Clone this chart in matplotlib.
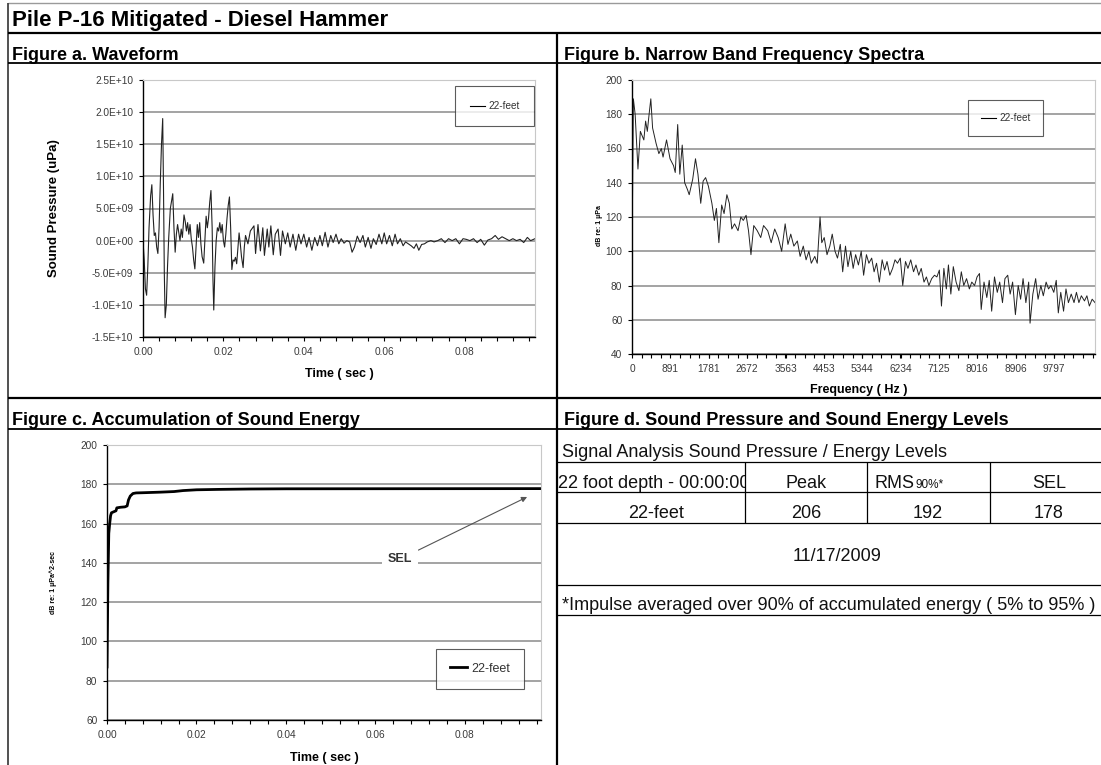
import matplotlib
matplotlib.use("Agg")
import matplotlib.pyplot as plt
from matplotlib.ticker import FixedLocator, MultipleLocator, FuncFormatter
from matplotlib.lines import Line2D

plt.rcParams['font.family'] = ['Liberation Sans', 'DejaVu Sans']

# ---------------- data ----------------
main_title = "Pile P-16 Mitigated - Diesel Hammer"
panel_titles = ["Figure a. Waveform", "Figure b. Narrow Band Frequency Spectra",
                "Figure c. Accumulation of Sound Energy",
                "Figure d. Sound Pressure and Sound Energy Levels"]
series_name = "22-feet"

# Figure a: waveform (time in ms, pressure in 1E9 uPa)
wave_t_ms = [0.0, 0.3, 0.6, 0.9, 1.2, 1.5, 1.9, 2.2, 2.5, 2.8, 3.1, 3.4, 3.7, 4.0, 4.3, 4.6, 4.9,
             5.1, 5.3, 5.5, 5.8, 6.1, 6.4, 6.8, 7.4, 7.7, 8.0, 8.3, 8.6, 8.9, 9.2, 9.5, 9.8,
             10.2, 10.5, 10.8, 11.1, 11.4, 11.7, 12.0, 12.3, 12.6, 12.9, 13.2, 13.5, 13.8, 14.1,
             14.4, 14.7, 15.1, 15.4, 15.7, 16.0, 16.3, 16.6, 16.9, 17.2, 17.4, 17.6, 17.9, 18.2,
             18.5, 18.8, 19.1, 19.4, 19.7, 20.0, 20.3, 20.6, 20.9, 21.2, 21.5, 21.8, 22.1, 22.4,
             22.7, 23.0, 23.3, 23.6, 23.9, 24.2, 24.5, 24.9, 25.2, 25.5, 26.1,
             26.7, 27.6, 28.0, 28.6, 29.2, 29.8, 30.2, 30.9, 31.3, 31.8, 32.4, 32.9, 33.6, 34.2,
             34.7, 35.4, 36.0, 36.6, 37.3, 38.0, 38.7, 39.3, 40.0, 40.7, 41.3, 42.0, 42.7, 43.4,
             44.0, 44.6, 45.3, 46.0, 46.7, 47.3, 48.0, 48.7, 49.3, 50.0, 50.7, 51.4, 52.0, 52.6,
             53.3, 54.0, 54.7, 55.3, 56.0, 56.7, 57.3, 58.0, 58.7, 59.4, 60.0, 60.6, 61.3, 62.0,
             62.7, 63.3, 64.0, 64.7, 65.3, 66.0, 66.7, 67.4, 68.0, 68.6, 69.3, 70.0, 70.7, 71.6,
             72.4, 73.3, 74.2, 75.1, 76.0, 76.9, 77.8, 78.7, 79.6, 80.4, 81.3, 82.2, 83.1, 84.0,
             84.9, 85.8, 86.7, 87.6, 88.4, 89.3, 90.2, 91.1, 92.0, 92.9, 93.8, 94.7, 95.6, 96.4,
             97.5]
wave_p_e9 = [0.0, -3.0, -7.5, -8.5, -4.0, 2.0, 7.0, 8.7, 4.0, 0.8, 1.2, -1.0, -2.0, 2.0, 9.0, 15.0, 19.0,
             8.0, -5.0, -12.0, -10.0, -4.0, 0.5, 5.0, 7.3, 2.0, -1.8, 1.0, 2.5, 1.2, 0.0, 1.8, 0.5,
             4.0, 3.0, 1.5, 2.8, 1.0, 2.5, 0.3, -1.0, -3.0, -4.4, -1.0, 2.5, 0.5, 2.8,
             -0.5, -2.5, -3.5, 0.0, 3.8, 2.0, 3.5, 6.0, 7.8, 2.0, -6.0, -10.8, -4.0, 0.0,
             2.0, 1.5, 2.8, 1.2, 2.5, 0.0, -1.0, 1.0, 3.5, 5.5, 6.8, 2.0, -4.5, -3.0,
             -3.2, -2.6, -3.6, -1.2, 1.2, -0.5, -2.5, -4.2, -1.0, 0.8, -0.5,
             1.5, 2.3, -2.0, 2.5, -1.6, 2.0, -2.3, 1.8, -1.0, 2.3, -2.2, 1.0, 1.8, -2.3,
             1.5, -0.5, 1.2, -1.0, 1.0, -1.5, 1.0, -0.5, 1.0, -1.0, 0.5, -1.5, 0.5, -0.8,
             0.8, -0.8, 1.3, -1.0, 0.8, -0.3, 1.0, -0.5, 0.3, -0.4, 0.0, -0.2, -1.8, -1.0,
             0.7, -0.3, 0.8, -1.0, 0.5, -1.2, 0.3, -0.6, 1.0, -0.5, 1.2, -0.5, 0.8, -0.8,
             1.0, -0.5, 0.3, -0.8, -0.2, -0.5, -0.8, -1.2, -0.5, -1.5, -0.6, -0.5, -0.2, 0.0,
             -0.2, 0.0, 0.3, -0.3, 0.3, 0.0, 0.3, -0.5, 0.3, 0.2, 0.0, 0.3, -0.3, 0.2,
             -0.7, 0.1, 0.3, 0.8, 0.2, 0.6, 0.3, 0.0, 0.3, 0.0, 0.2, -0.3, 0.5, 0.0,
             0.3]

# Figure b: narrow band spectrum (Hz, dB re 1 uPa)
spec_f = [0, 32, 73, 138, 194, 275, 316, 356, 397, 437, 478, 559, 624, 680, 721, 802, 883, 964,
          1004, 1061, 1110, 1166, 1223, 1288, 1328, 1409, 1474, 1531, 1596, 1652, 1709, 1774,
          1855, 1912, 1960, 2017, 2082, 2138, 2203, 2260, 2317, 2381, 2462, 2527, 2584, 2649,
          2705, 2762, 2827, 2908, 2989, 3054, 3151, 3232, 3313, 3394, 3475, 3556, 3621, 3686,
          3758, 3839, 3904, 3977, 4042, 4107, 4163, 4244, 4301, 4366, 4406, 4463, 4528, 4593,
          4649, 4714, 4771, 4836, 4892, 4957, 5014, 5079, 5135, 5192, 5257, 5322, 5378, 5443,
          5500, 5565, 5621, 5678, 5743, 5808, 5864, 5921, 5986, 6051, 6107, 6164, 6229, 6286,
          6350, 6407, 6472, 6537, 6593, 6658, 6715, 6780, 6836, 6893, 6958, 7023, 7079, 7136,
          7185, 7241, 7298, 7347, 7403, 7460, 7525, 7590, 7646, 7703, 7768, 7833, 7889, 7954,
          8011, 8068, 8108, 8173, 8238, 8294, 8351, 8416, 8481, 8537, 8602, 8659, 8724, 8780,
          8837, 8902, 8967, 9023, 9080, 9145, 9210, 9242, 9307, 9372, 9428, 9493, 9550, 9615,
          9671, 9728, 9793, 9850, 9898, 9955, 10020, 10076, 10133, 10198, 10263, 10319, 10376,
          10433, 10506, 10562, 10619, 10684, 10750]
spec_db = [95, 189, 180, 148, 170, 165, 176, 170, 180, 189, 172, 163, 157, 160, 155, 165, 154, 150,
           146, 174, 145, 162, 140, 136, 133, 142, 154, 145, 128, 141, 143, 138,
           128, 118, 125, 105, 127, 122, 133, 128, 113, 116, 112, 120, 118, 121,
           112, 98, 115, 112, 108, 115, 112, 105, 113, 108, 100, 116, 104, 110,
           103, 106, 97, 103, 95, 100, 93, 97, 93, 120, 105, 108, 98, 103,
           110, 100, 96, 104, 88, 103, 91, 100, 90, 98, 92, 100, 86, 98,
           93, 96, 88, 93, 82, 95, 89, 94, 86, 90, 95, 93, 96, 80,
           94, 90, 95, 88, 92, 86, 90, 82, 85, 80, 84, 86, 85, 89,
           68, 90, 78, 92, 75, 91, 82, 77, 88, 80, 84, 78, 82, 80,
           85, 87, 66, 82, 73, 83, 65, 85, 76, 82, 70, 84, 86, 75,
           82, 63, 80, 72, 84, 70, 82, 58, 75, 84, 72, 80, 74, 82,
           78, 80, 76, 83, 64, 76, 65, 78, 70, 75, 70, 76, 70,
           74, 71, 74, 68, 72, 70]
spec_ticks = [0, 891, 1781, 2672, 3563, 4453, 5344, 6234, 7125, 8016, 8906, 9797]

# Figure c: accumulated sound energy (s, dB re 1 uPa^2-sec)
sel_t = [0.0, 0.0002, 0.0004, 0.0006, 0.0008, 0.0010, 0.0015, 0.0020, 0.0022, 0.0030, 0.0040,
         0.0045, 0.0048, 0.0052, 0.0058, 0.0065, 0.0080, 0.0120, 0.0150, 0.0170, 0.0200,
         0.0250, 0.0320, 0.0400, 0.0970]
sel_db = [87, 130, 155, 160, 164, 165.5, 166, 166.5, 168, 168.3, 168.5,
          169, 172, 174, 175.3, 175.6, 175.7, 176.0, 176.3, 176.8, 177.2,
          177.4, 177.6, 177.7, 177.8]

# Figure d: table
table_caption = "Signal Analysis Sound Pressure / Energy Levels"
table_header = ["22 foot depth - 00:00:00", "Peak", "RMS", "SEL"]
table_row = ["22-feet", 206, 192, 178]
table_date = "11/17/2009"
table_note = "*Impulse averaged over 90% of accumulated energy ( 5% to 95% )"

# ---------------- layout ----------------
W, H = 1101, 765
fig = plt.figure(figsize=(W / 100, H / 100), dpi=100)
bg = fig.add_axes([0, 0, 1, 1], zorder=0)
bg.set_xlim(0, W)
bg.set_ylim(H, 0)
bg.axis('off')


def px_axes(x0, y0, x1, y1):
    return fig.add_axes([x0 / W, 1 - y1 / H, (x1 - x0) / W, (y1 - y0) / H], zorder=2)


def hline(y, x0, x1, lw=1.0, color='black'):
    bg.plot([x0, x1], [y, y], color=color, lw=lw, solid_capstyle='butt')


def vline(x, y0, y1, lw=1.0, color='black'):
    bg.plot([x, x], [y0, y1], color=color, lw=lw, solid_capstyle='butt')


# frame lines
hline(3, 8, W, lw=1.0, color='#9a9a9a')
vline(8, 3, H, lw=1.2, color='#333333')
hline(33, 8, W, lw=1.6)
hline(63, 8, W, lw=1.3)
hline(398, 8, W, lw=1.6)
hline(429, 8, W, lw=1.3)
vline(557, 33, H, lw=1.6)

# titles
bg.text(12, 26, main_title, fontsize=16, fontweight='bold', ha='left', va='baseline')
bg.text(12, 60, panel_titles[0], fontsize=13, fontweight='bold', ha='left', va='baseline')
bg.text(564, 60, panel_titles[1], fontsize=13, fontweight='bold', ha='left', va='baseline')
bg.text(12, 425, panel_titles[2], fontsize=13, fontweight='bold', ha='left', va='baseline')
bg.text(564, 425, panel_titles[3], fontsize=13, fontweight='bold', ha='left', va='baseline')

GRID = '#8a8a8a'
TICKC = '#3a3a3a'


def style_axes(ax):
    ax.set_facecolor('white')
    ax.spines['top'].set_color('#c8c8c8')
    ax.spines['right'].set_color('#c8c8c8')
    ax.spines['top'].set_linewidth(0.8)
    ax.spines['right'].set_linewidth(0.8)
    ax.spines['left'].set_linewidth(1.0)
    ax.spines['bottom'].set_linewidth(1.0)
    ax.grid(axis='y', color=GRID, lw=1.1)
    ax.set_axisbelow(True)
    ax.tick_params(axis='both', which='major', direction='out', length=3, width=0.8,
                   labelsize=7.3, labelcolor=TICKC, pad=4)
    ax.tick_params(axis='x', which='minor', direction='out', length=3, width=0.8)


def legend(ax, lw, fs, anchor, handlelength, borderpad):
    h = [Line2D([0], [0], color='black', lw=lw)]
    lg = ax.legend(h, [series_name], loc='upper left', bbox_to_anchor=anchor,
                   bbox_transform=fig.transFigure, frameon=True, fancybox=False,
                   fontsize=fs, handlelength=handlelength, borderpad=borderpad,
                   handletextpad=0.3, borderaxespad=0)
    lg.get_frame().set_edgecolor('#333333')
    lg.get_frame().set_linewidth(0.8)
    for t in lg.get_texts():
        t.set_color('#333333')
    return lg


# ---- Figure a ----
axa = px_axes(143, 80, 535, 337)
style_axes(axa)
axa.plot([t / 1000 for t in wave_t_ms], [p * 1e9 for p in wave_p_e9], color='#222222', lw=0.8)
axa.set_xlim(0, 0.0975)
axa.set_ylim(-1.5e10, 2.5e10)
axa.yaxis.set_major_locator(MultipleLocator(5e9))
axa.yaxis.set_major_formatter(FuncFormatter(lambda v, p: f"{v:.1E}"))
axa.xaxis.set_major_locator(MultipleLocator(0.02))
axa.xaxis.set_minor_locator(MultipleLocator(0.004))
axa.xaxis.set_major_formatter(FuncFormatter(lambda v, p: f"{v:.2f}"))
axa.set_xlabel("Time ( sec )", fontsize=9, fontweight='bold')
axa.xaxis.set_label_coords(0.5, -0.12)
axa.set_ylabel("Sound Pressure (uPa)", fontsize=9.5, fontweight='bold')
axa.yaxis.set_label_coords(-0.212, 0.5)
legend(axa, 0.8, 7.2, (455 / W, 1 - 86 / H), 1.5, 1.5)

# ---- Figure b ----
axb = px_axes(632, 80, 1095, 354)
style_axes(axb)
axb.plot(spec_f, spec_db, color='#222222', lw=0.7)
axb.set_xlim(0, 10750)
axb.set_ylim(40, 200)
axb.yaxis.set_major_locator(MultipleLocator(20))
axb.xaxis.set_major_locator(FixedLocator(spec_ticks))
axb.xaxis.set_minor_locator(MultipleLocator(891 / 4))
axb.set_xticklabels([str(v) for v in spec_ticks])
axb.set_xlabel("Frequency ( Hz )", fontsize=9, fontweight='bold')
axb.xaxis.set_label_coords(0.49, -0.11)
axb.set_ylabel("dB re: 1 µPa", fontsize=5, fontweight='bold')
axb.yaxis.set_label_coords(-0.063, 0.47)
legend(axb, 0.8, 7.2, (968 / W, 1 - 100 / H), 1.5, 1.3)

# ---- Figure c ----
axc = px_axes(107, 445, 541, 720)
style_axes(axc)
axc.plot(sel_t, sel_db, color='black', lw=2.0)
axc.set_xlim(0, 0.097)
axc.set_ylim(60, 200)
axc.yaxis.set_major_locator(MultipleLocator(20))
axc.xaxis.set_major_locator(MultipleLocator(0.02))
axc.xaxis.set_minor_locator(MultipleLocator(0.004))
axc.xaxis.set_major_formatter(FuncFormatter(lambda v, p: f"{v:.2f}"))
axc.set_xlabel("Time ( sec )", fontsize=9, fontweight='bold')
axc.xaxis.set_label_coords(0.5, -0.115)
axc.set_ylabel("dB re: 1 µPa^2-sec", fontsize=5, fontweight='bold')
axc.yaxis.set_label_coords(-0.115, 0.5)
axc.annotate("SEL", xy=(0.968, 0.811), xycoords='axes fraction',
             xytext=(0.675, 0.585), textcoords='axes fraction',
             fontsize=9, fontweight='bold', color='#333333', ha='center', va='center',
             bbox=dict(boxstyle='square,pad=0.5', fc='white', ec='none'),
             arrowprops=dict(arrowstyle='-|>', color='#555555', lw=0.8,
                             mutation_scale=8, shrinkA=0, shrinkB=0))
legend(axc, 2.0, 9, (436 / W, 1 - 649 / H), 1.4, 1.1)

# ---- Figure d: table ----
TFS = 13
for y in (462, 492, 523, 585, 615):
    hline(y, 557, W, lw=0.9)
for x in (745, 867, 990):
    vline(x, 462, 523, lw=0.9)
bg.text(562, 457, table_caption, fontsize=TFS, ha='left', va='baseline', color='#111111')
hdr = bg.text(654, 488, table_header[0], fontsize=TFS, ha='center', va='baseline', color='#111111')
clip = plt.Rectangle((558, 462), 745 - 558, 30, transform=bg.transData)
hdr.set_clip_path(clip)
hdr.set_clip_on(True)
bg.text(806, 488, table_header[1], fontsize=TFS, ha='center', va='baseline', color='#111111')
bg.text(915, 488, table_header[2], fontsize=TFS, ha='right', va='baseline', color='#111111')
bg.text(915, 488, "90%*", fontsize=8.5, ha='left', va='baseline', color='#111111')
bg.text(1049, 488, table_header[3], fontsize=TFS, ha='center', va='baseline', color='#111111')
centers = [656, 806, 928, 1049]
for cx, val in zip(centers, table_row):
    bg.text(cx, 518, str(val), fontsize=TFS, ha='center', va='baseline', color='#111111')
bg.text(837, 561, table_date, fontsize=TFS, ha='center', va='baseline', color='#111111')
bg.text(562, 610, table_note, fontsize=TFS, ha='left', va='baseline', color='#111111')

fig.savefig("out.png", dpi=100)
